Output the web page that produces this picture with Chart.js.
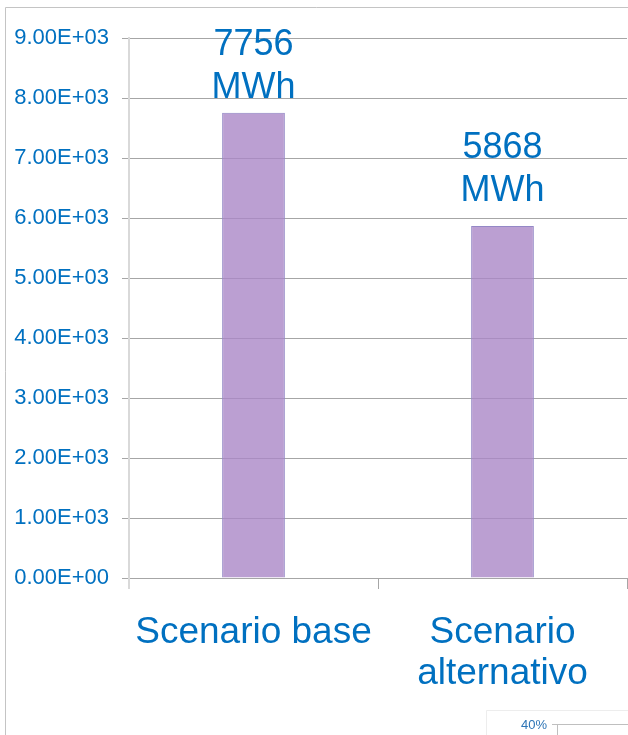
<!DOCTYPE html>
<html>
<head>
<meta charset="utf-8">
<script src="https://cdn.jsdelivr.net/npm/chart.js@4/dist/chart.umd.min.js"></script>
<style>
  html, body { margin: 0; padding: 0; background: #fff; }
  #wrap { width: 628px; height: 735px; position: relative; }
</style>
</head>
<body>
<div id="wrap"><canvas id="chart" width="628" height="735"></canvas></div>
<script>
/* ── Data ───────────────────────────────────────────────────────── */
const CATEGORIES = [["Scenario base"], ["Scenario", "alternativo"]];
const ENERGY_MWH = [7756, 5868];
const UNIT = "MWh";
const Y_MIN = 0;
const Y_MAX = 9000;
const Y_STEP = 1000;

/* ── Helpers ────────────────────────────────────────────────────── */
const FONT = '"Liberation Sans", Arial, sans-serif';
const BLUE = "#0070C0";

function sci(v) {
  var parts = Number(v).toExponential(2).split("e");
  var n = parseInt(parts[1], 10);
  return parts[0] + "E" + (n < 0 ? "-" : "+") + String(Math.abs(n)).padStart(2, "0");
}

/* ── Plugins ────────────────────────────────────────────────────── */
// outer frame of the slide object and the corner of the next chart
const framePlugin = {
  id: "frame",
  beforeDraw: function (chart) {
    var ctx = chart.ctx;
    ctx.save();
    ctx.fillStyle = "#fff";
    ctx.fillRect(0, 0, chart.width, chart.height);
    ctx.strokeStyle = "#C4C4C4";
    ctx.lineWidth = 1;
    ctx.beginPath();
    ctx.moveTo(5.5, chart.height);
    ctx.lineTo(5.5, 7.5);
    ctx.lineTo(chart.width, 7.5);
    ctx.stroke();

    ctx.strokeStyle = "#EDEDED";
    ctx.beginPath();
    ctx.moveTo(486.5, chart.height);
    ctx.lineTo(486.5, 710.5);
    ctx.lineTo(chart.width, 710.5);
    ctx.stroke();

    ctx.strokeStyle = "#BFBFBF";
    ctx.beginPath();
    ctx.moveTo(552, 724.5);
    ctx.lineTo(chart.width, 724.5);
    ctx.moveTo(557.5, 724);
    ctx.lineTo(557.5, chart.height);
    ctx.stroke();

    ctx.fillStyle = "#2E75B6";
    ctx.font = "13px " + FONT;
    ctx.textAlign = "right";
    ctx.textBaseline = "middle";
    ctx.fillText("40%", 547, 725);
    ctx.restore();
  }
};

const valueLabels = {
  id: "valueLabels",
  afterDatasetsDraw: function (chart, args, opts) {
    var ctx = chart.ctx;
    var meta = chart.getDatasetMeta(0);
    ctx.save();
    ctx.fillStyle = BLUE;
    ctx.font = "36px " + FONT;
    ctx.textAlign = "center";
    ctx.textBaseline = "alphabetic";
    meta.data.forEach(function (bar, i) {
      var base = bar.y - opts.offsets[i];
      ctx.fillText(String(ENERGY_MWH[i]), bar.x, base - 43);
      ctx.fillText(UNIT, bar.x, base);
    });
    ctx.restore();
  }
};

/* ── Chart ──────────────────────────────────────────────────────── */
new Chart(document.getElementById("chart").getContext("2d"), {
  type: "bar",
  data: {
    labels: CATEGORIES,
    datasets: [{
      data: ENERGY_MWH,
      backgroundColor: "rgba(170,135,199,0.8)",
      borderColor: "#9488C6",
      borderWidth: 1,
      categoryPercentage: 1,
      barPercentage: 0.252,
    }],
  },
  options: {
    responsive: false,
    animation: false,
    devicePixelRatio: 1,
    layout: { padding: { top: 38, right: 1, bottom: 0, left: 0 } },
    plugins: {
      legend: { display: false },
      tooltip: { enabled: false },
      valueLabels: { offsets: [15, 25] },
    },
    scales: {
      x: {
        afterFit: function (s) { s.height = 157; },
        grid: {
          offset: true,
          drawOnChartArea: false,
          drawTicks: true,
          tickLength: 11,
          color: function (c) { return c.index === 0 ? "#D9D9D9" : "#A6A6A6"; },
          lineWidth: function (c) { return c.index === 0 ? 2 : 1; },
        },
        border: { display: false },
        ticks: {
          color: BLUE,
          padding: 23,
          maxRotation: 0,
          font: { family: FONT, size: 37, lineHeight: "41px" },
        },
      },
      y: {
        min: Y_MIN,
        max: Y_MAX,
        afterFit: function (s) { s.width = 129; },
        grid: {
          color: "#A6A6A6",
          lineWidth: 1,
          tickLength: 7,
        },
        border: { color: "#D9D9D9", width: 2 },
        ticks: {
          stepSize: Y_STEP,
          color: BLUE,
          padding: 13,
          font: { family: FONT, size: 22 },
          callback: function (v) { return sci(v); },
        },
      },
    },
  },
  plugins: [framePlugin, valueLabels],
});
</script>
</body>
</html>
